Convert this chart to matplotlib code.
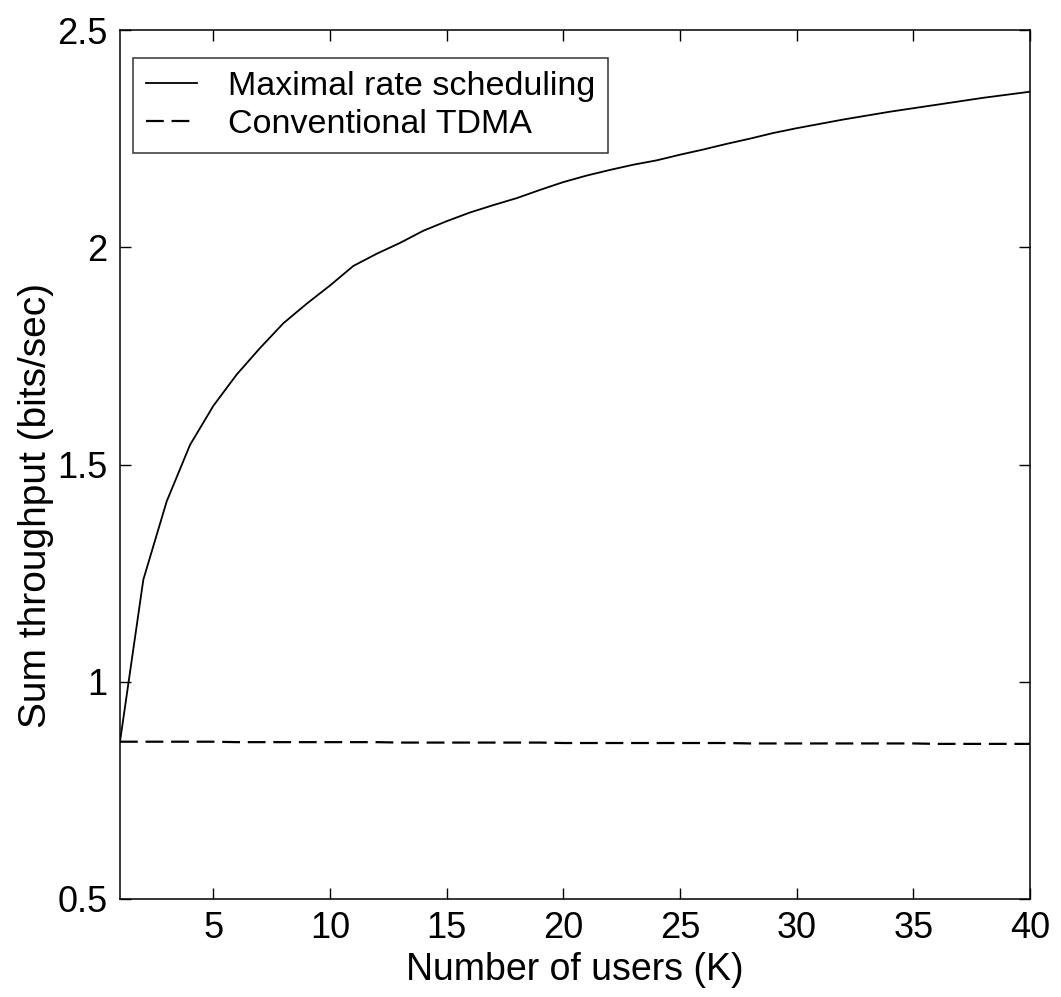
import matplotlib
matplotlib.use("Agg")
import matplotlib.pyplot as plt

users = list(range(1, 41))
maximal_rate = [0.862, 1.235, 1.415, 1.545, 1.635, 1.707, 1.768, 1.825, 1.870, 1.912,
                1.957, 1.985, 2.010, 2.038, 2.060, 2.080, 2.097, 2.113, 2.132, 2.150,
                2.165, 2.178, 2.190, 2.200, 2.213, 2.225, 2.238, 2.250, 2.263, 2.274,
                2.284, 2.294, 2.303, 2.312, 2.320, 2.328, 2.336, 2.344, 2.351, 2.358]
tdma = [0.862, 0.862, 0.862, 0.862, 0.862, 0.861, 0.861, 0.861, 0.861, 0.861,
        0.861, 0.861, 0.860, 0.860, 0.860, 0.860, 0.860, 0.860, 0.860, 0.859,
        0.859, 0.859, 0.859, 0.859, 0.859, 0.859, 0.859, 0.858, 0.858, 0.858,
        0.858, 0.858, 0.858, 0.858, 0.858, 0.857, 0.857, 0.857, 0.857, 0.857]

xticks = [5, 10, 15, 20, 25, 30, 35, 40]
yticks = [0.5, 1, 1.5, 2, 2.5]
yticklabels = ["0.5", "1", "1.5", "2", "2.5"]

plt.rcParams['font.family'] = ['Liberation Sans', 'DejaVu Sans']

fig = plt.figure(figsize=(10.61, 9.97), dpi=100)
ax = fig.add_axes([0.1131, 0.0983, 0.8577, 0.8716])

ax.plot(users, maximal_rate, color='black', linewidth=1.3, label='Maximal rate scheduling')
ax.plot(users, tdma, color='black', linewidth=1.6, linestyle=(0, (8, 3.5)), label='Conventional TDMA')

ax.set_xlim(1, 40)
ax.set_ylim(0.5, 2.5)
ax.set_xticks(xticks)
ax.set_yticks(yticks)
ax.set_yticklabels(yticklabels)
ax.tick_params(direction='in', length=8, width=1, top=True, right=True,
               labelsize=26, pad=9)
for s in ax.spines.values():
    s.set_linewidth(1.1)

ax.set_xlabel('Number of users (K)', fontsize=27, labelpad=4)
ax.set_ylabel('Sum throughput (bits/sec)', fontsize=28)
ax.yaxis.set_label_coords(-0.073, 0.453)

leg = ax.legend(loc='upper left', fontsize=24.5, frameon=True, fancybox=False,
                edgecolor='black', handlelength=1.5, handletextpad=0.9,
                borderpad=0.38, labelspacing=0.22, borderaxespad=0.0,
                bbox_to_anchor=(0.0143, 0.968))
leg.get_frame().set_linewidth(1.1)

fig.savefig('out.png', dpi=100, facecolor='white')
